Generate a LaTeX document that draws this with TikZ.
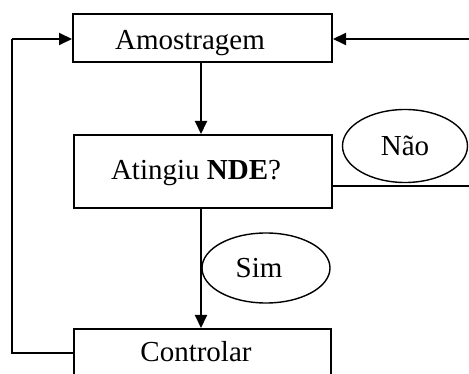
\documentclass[tikz,border=0pt]{standalone}
\usepackage{fontspec}
\setmainfont{Liberation Serif}
\usetikzlibrary{arrows.meta,shapes.geometric}
\begin{document}
\begin{tikzpicture}[x=1pt,y=-1pt,
  txt/.style={font=\fontsize{29}{34}\selectfont},
  box/.style={draw,line width=2pt,inner sep=0pt,txt},
  oval/.style={draw,ellipse,line width=1.4pt,inner sep=0pt,txt},
  conn/.style={line width=2pt},
  arr/.style={conn,-{Triangle[length=13pt,width=12pt]}}]
\useasboundingbox (0,0) rectangle (469,374);
\node[box,minimum width=259pt,text height=36pt,text depth=12pt] (amo) at (202.5,38) {\hspace*{-25pt}Amostragem};
\node[box,minimum width=258pt,text height=45pt,text depth=28pt] (ati) at (203,171.5) {\hspace*{-14pt}Atingiu \textbf{NDE}?};
\node[box,minimum width=257pt,text height=33pt,text depth=27pt] (con) at (202.5,359) {\hspace*{-13pt}Controlar};
\node[oval,minimum width=125pt,minimum height=73pt] (nao) at (405,146) {Não};
\node[oval,minimum width=128pt,minimum height=70pt] (sim) at (266,268) {\hspace*{-14pt}Sim};
\coordinate (l1) at (12,353);
\coordinate (l2) at (12,39);
\coordinate (r1) at (480,186);
\coordinate (r2) at (480,39);
\draw[arr] (amo.south -| 201,0) -- (ati.north -| 201,0);
\draw[arr] (ati.south -| 201,0) -- (con.north -| 201,0);
\draw[conn] (con.west |- l1) -- (l1) -- (l2);
\draw[arr] (l2) -- (amo.west |- l2);
\draw[conn] (ati.east |- r1) -- (r1) -- (r2);
\draw[arr] (r2) -- (amo.east |- r2);
\end{tikzpicture}
\end{document}
